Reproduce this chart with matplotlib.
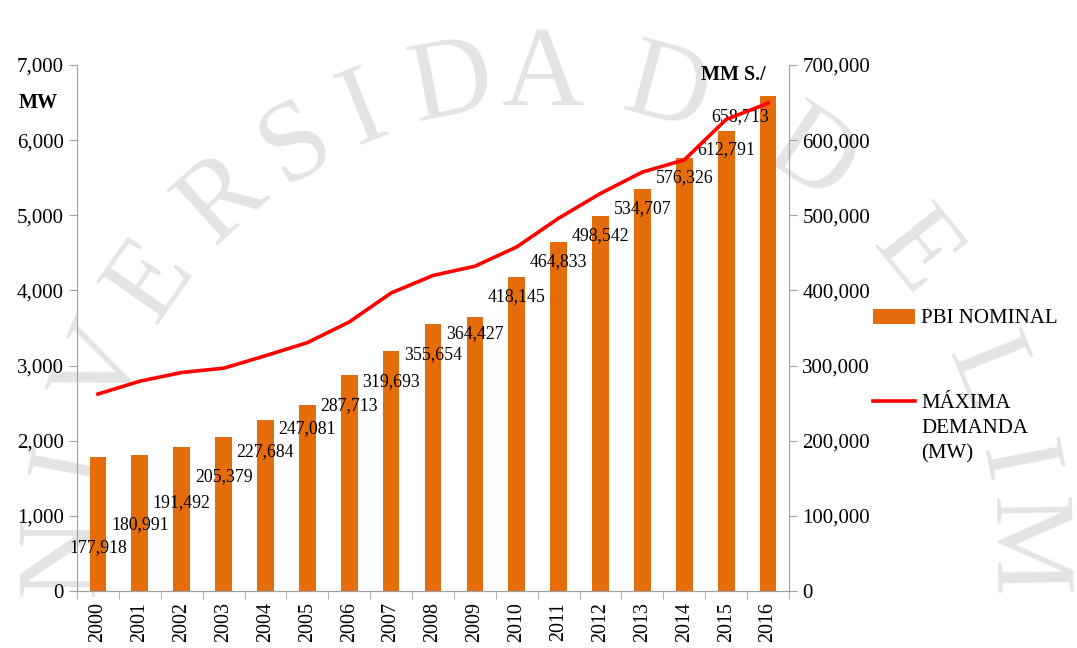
import numpy as np
import matplotlib.pyplot as plt
from matplotlib.ticker import FuncFormatter

# datos
anios = ["2000", "2001", "2002", "2003", "2004", "2005", "2006", "2007", "2008",
         "2009", "2010", "2011", "2012", "2013", "2014", "2015", "2016"]
pbi = [177918, 180991, 191492, 205379, 227684, 247081, 287713, 319693, 355654,
       364427, 418145, 464833, 498542, 534707, 576326, 612791, 658713]
demanda = [2621, 2792, 2908, 2965, 3131, 3305, 3580, 3966, 4199,
           4322, 4579, 4961, 5291, 5575, 5737, 6275, 6492]

# desplazamiento de las etiquetas respecto al tope de cada barra (puntos)
lab_dy = [-65, -50, -40, -29, -23, -17, -22, -22, -22, -12, -14, -14, -14, -14, -14, -14, -15]
lab_dx = [0] * 16 + [-20]

plt.rcParams["font.family"] = ["Liberation Serif", "DejaVu Serif"]

fig = plt.figure(figsize=(10.77, 6.48), dpi=100)

# marca de agua (texto en arco)
letras = "NIVERSIDAD DE LIM"
angulos = [180, 169, 157, 145, 132, 121, 112, 101, 90, 75, None, 56, 39, None, 22, 11, 1]
cx, cy, r = 543, 555, 478
for ch, a in zip(letras, angulos):
    if a is None:
        continue
    t = np.deg2rad(a)
    px = cx + r * np.cos(t)
    py = cy - r * np.sin(t)
    fig.text(px / 1077, 1 - py / 648, ch, fontsize=82, color="#e4e4e4",
             rotation=a - 90, rotation_mode="anchor", ha="center", va="center",
             zorder=-1)

ax = fig.add_axes([77 / 1077, 1 - 591 / 648, 712 / 1077, 526 / 648])
ax2 = ax.twinx()
ax.set_zorder(ax2.get_zorder() + 1)
ax.patch.set_visible(False)

x = np.arange(len(anios))
barras = ax2.bar(x, pbi, width=0.4, color="#e46c0a", label="PBI NOMINAL")
linea, = ax.plot(x, demanda, color="#ff0000", lw=2.6, label="MÁXIMA\nDEMANDA\n(MW)")

for i, v in enumerate(pbi):
    ax2.annotate(f"{v:,}", xy=(i, v), xytext=(lab_dx[i], lab_dy[i]),
                 textcoords="offset points", ha="center", va="center", fontsize=12.8)

ax.set_xlim(-0.5, len(anios) - 0.5)
ax.set_ylim(0, 7000)
ax2.set_ylim(0, 700000)
ax.set_yticks(np.arange(0, 7001, 1000))
ax2.set_yticks(np.arange(0, 700001, 100000))
fmt = FuncFormatter(lambda v, p: f"{int(v):,}")
ax.yaxis.set_major_formatter(fmt)
ax2.yaxis.set_major_formatter(fmt)

ax.set_xticks(x)
ax.set_xticklabels(anios, rotation=90, fontsize=14.4)
ax.set_xticks(np.arange(-0.5, len(anios), 1), minor=True)
ax.tick_params(axis="x", which="major", length=0, pad=8)
ax.tick_params(axis="x", which="minor", length=6, color="#a0a0a0")
ax.tick_params(axis="y", labelsize=15, length=6, color="#a0a0a0")
ax2.tick_params(axis="y", labelsize=15, length=6, color="#a0a0a0")

for a in (ax, ax2):
    a.spines["top"].set_visible(False)
    for s in ("left", "right", "bottom"):
        a.spines[s].set_color("#a0a0a0")
ax.spines["right"].set_visible(False)
ax2.spines["left"].set_visible(False)

fig.text(38 / 1077, 1 - 103 / 648, "MW", fontsize=14.5, fontweight="bold", ha="center", va="center")
fig.text(733 / 1077, 1 - 75 / 648, "MM S./", fontsize=14.5, fontweight="bold", ha="center", va="center")

leg = fig.legend([barras, linea], ["PBI NOMINAL", "MÁXIMA\nDEMANDA\n(MW)"],
                 loc="upper left", bbox_to_anchor=(873 / 1077, 1 - 309 / 648),
                 frameon=False, fontsize=15, handlelength=2.0, handletextpad=0.3,
                 labelspacing=3.15, borderpad=0, borderaxespad=0)
leg.get_texts()[1].set_linespacing(1.45)
# alinear el símbolo con la primera línea del texto
for col in leg._legend_handle_box.get_children():
    for fila in col.get_children():
        fila.align = "top"

fig.savefig("out.png", dpi=100)
